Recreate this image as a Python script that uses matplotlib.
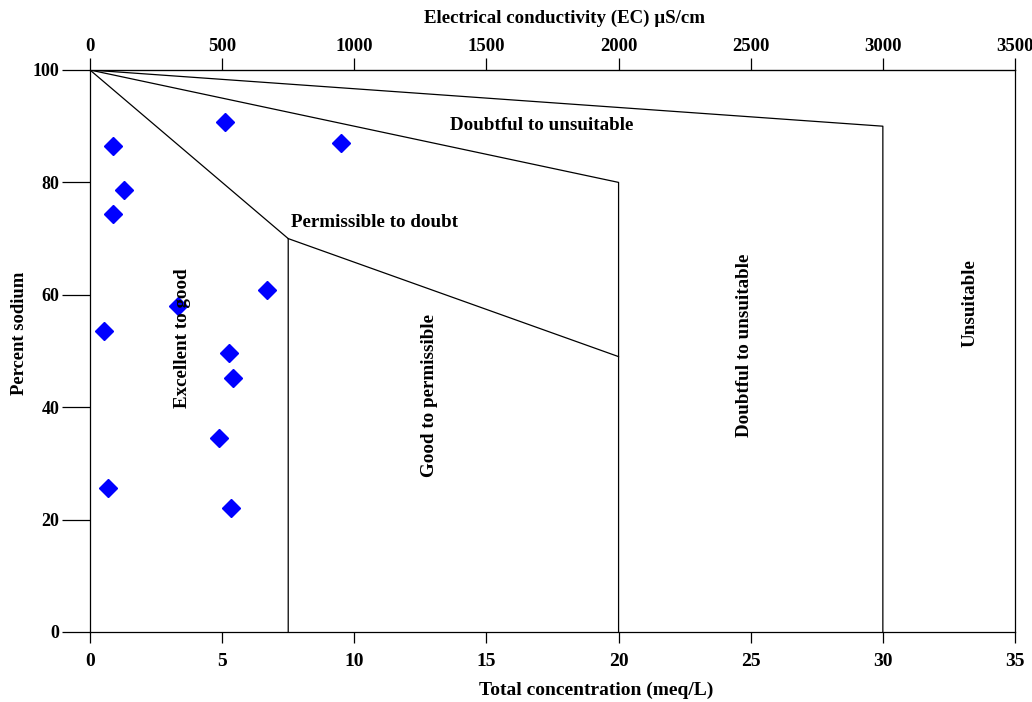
import matplotlib
matplotlib.use("Agg")
import matplotlib.pyplot as plt

plt.rcParams['font.family'] = ['Liberation Serif', 'DejaVu Serif']
plt.rcParams['font.weight'] = 'bold'

# sample points: total concentration (meq/L) and percent sodium
tc = [0.87, 5.11, 1.29, 0.87, 9.50, 6.70, 3.33, 0.53, 5.26, 5.41, 4.88, 0.68, 5.33]
na = [86.5, 90.7, 78.6, 74.4, 87.0, 60.9, 58.0, 53.6, 49.6, 45.2, 34.5, 25.6, 22.1]

# class boundaries (meq/L, %Na)
b1_x, b1_y = [0, 7.5, 7.5], [100, 70, 0]
b2_x, b2_y = [7.5, 20, 20], [70, 49, 0]
b3_x, b3_y = [0, 20, 20], [100, 80, 49]
b4_x, b4_y = [0, 30, 30], [100, 90, 0]

fig = plt.figure(figsize=(10.32, 7.02), dpi=100)
ax = fig.add_axes([90/1032, 1 - 632/702, (1015 - 90)/1032, (632 - 70)/702])

for bx, by in [(b1_x, b1_y), (b2_x, b2_y), (b3_x, b3_y), (b4_x, b4_y)]:
    ax.plot(bx, by, color='black', linewidth=0.9)

ax.plot(tc, na, 'D', color='#0000ff', markersize=9.5, linestyle='none')

ax.set_xlim(0, 35)
ax.set_ylim(0, 100)
ax.set_xticks(range(0, 36, 5))
ax.set_yticks([0, 20, 40, 60, 80, 100])
ax.tick_params(axis='x', direction='out', length=8, width=0.9, pad=7, labelsize=14)
ax.tick_params(axis='y', direction='out', length=20, width=0.9, pad=2, labelsize=13)
for s in ax.spines.values():
    s.set_linewidth(0.9)

top = ax.secondary_xaxis('top', functions=(lambda x: x * 100, lambda x: x / 100))
top.set_xticks(range(0, 3501, 500))
top.tick_params(direction='out', length=9, width=0.9, pad=2, labelsize=13.5)

# axis titles placed in figure pixels
fig.text(565/1032, 1 - 18/702, 'Electrical conductivity (EC) µS/cm',
         ha='center', va='center', fontsize=13.6, fontweight='bold')
fig.text(596/1032, 1 - 690/702, 'Total concentration (meq/L)',
         ha='center', va='center', fontsize=14, fontweight='bold')
fig.text(20/1032, 1 - 333/702, 'Percent sodium', rotation=90,
         ha='center', va='center', fontsize=13.4, fontweight='bold')

kw = dict(fontsize=13.7, fontweight='bold')
ax.text(17.1, 90.2, 'Doubtful to unsuitable', ha='center', va='center', **kw)
ax.text(7.6, 72.8, 'Permissible to doubt', ha='left', va='center', **kw)
ax.text(3.5, 52.3, 'Excellent to good', rotation=90, ha='center', va='center', **kw)
ax.text(12.85, 42, 'Good to permissible', rotation=90, ha='center', va='center', **kw)
ax.text(24.75, 51, 'Doubtful to unsuitable', rotation=90, ha='center', va='center', **kw)
ax.text(33.3, 58.5, 'Unsuitable', rotation=90, ha='center', va='center', **kw)

fig.savefig('out.png', dpi=100)
